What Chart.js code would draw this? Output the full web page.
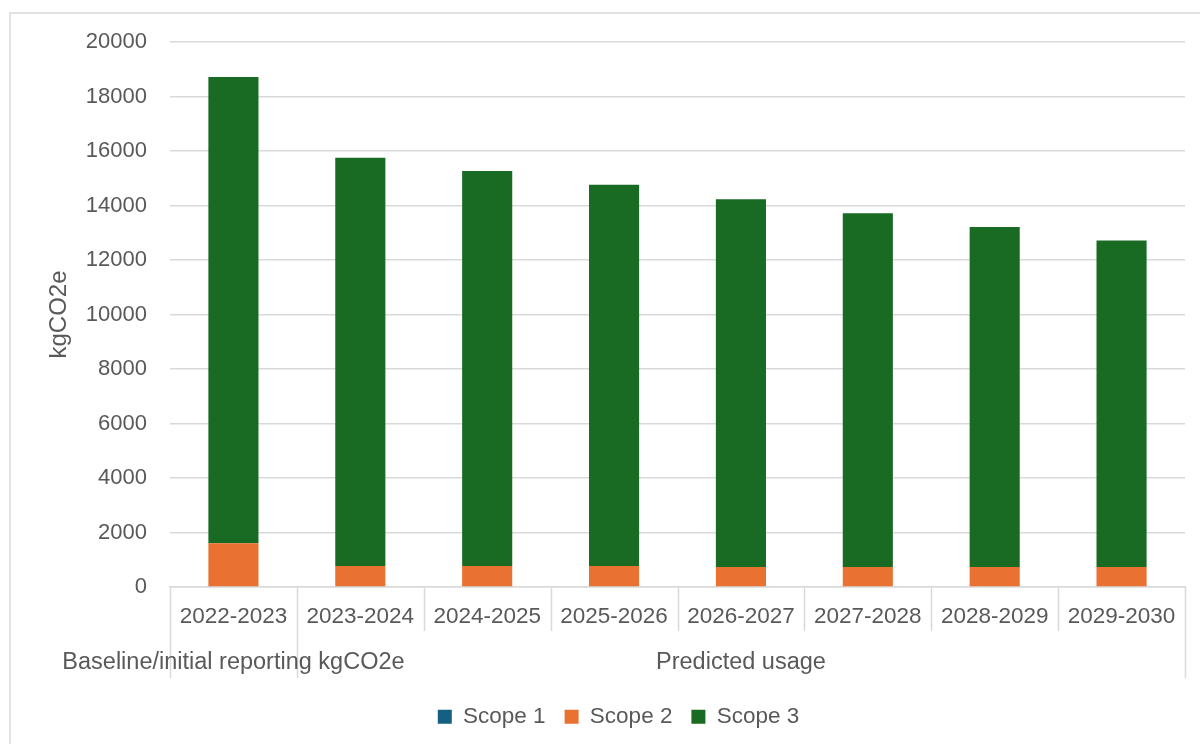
<!DOCTYPE html>
<html>
<head>
<meta charset="utf-8">
<script src="https://cdn.jsdelivr.net/npm/chart.js@4/dist/chart.umd.min.js"></script>
<style>
html,body{margin:0;padding:0;background:#fff;}
canvas{display:block;}
</style>
</head>
<body>
<canvas id="c" width="1200" height="744"></canvas>
<script>
const categories = ["2022-2023","2023-2024","2024-2025","2025-2026","2026-2027","2027-2028","2028-2029","2029-2030"];
const groups = [
  {label: "Baseline/initial reporting kgCO2e", from: 0, to: 0},
  {label: "Predicted usage", from: 1, to: 7}
];
const scope1 = [0, 0, 0, 0, 0, 0, 0, 0];
const scope2 = [1610, 770, 770, 770, 730, 730, 730, 730];
const scope3 = [17110, 14980, 14500, 13990, 13500, 12990, 12480, 11990];
const yTicks = [0, 2000, 4000, 6000, 8000, 10000, 12000, 14000, 16000, 18000, 20000];

const FONT = "'Liberation Sans', Arial, sans-serif";
const TXT = "#595959";
const GRID = "#d9d9d9";

const axisPlugin = {
  id: 'multiAxis',
  afterLayout(chart) {
    if (chart.legend) {
      chart.legend.left += 26; chart.legend.right += 26;
      chart.legend.top -= 6; chart.legend.bottom -= 6;
    }
  },
  beforeDraw(chart) {
    const ctx = chart.ctx;
    ctx.save();
    ctx.fillStyle = '#fff';
    ctx.fillRect(0, 0, chart.width, chart.height);
    ctx.strokeStyle = GRID;
    ctx.lineWidth = 1.5;
    ctx.strokeRect(10, 13, 1300, 900);
    ctx.restore();
  },
  afterDraw(chart) {
    const ctx = chart.ctx;
    const x = chart.scales.x;
    const area = chart.chartArea;
    const n = categories.length;
    const w = (area.right - area.left) / n;
    const base = area.bottom;
    ctx.save();
    ctx.strokeStyle = GRID;
    ctx.lineWidth = 1.5;
    const groupEdges = new Set();
    groups.forEach(g => { groupEdges.add(g.from); groupEdges.add(g.to + 1); });
    for (let i = 0; i <= n; i++) {
      const px = Math.round(area.left + i * w) + 0.5;
      const bottom = groupEdges.has(i) ? base + 91 : base + 44;
      ctx.beginPath();
      ctx.moveTo(px, base);
      ctx.lineTo(px, bottom);
      ctx.stroke();
    }
    ctx.fillStyle = TXT;
    ctx.font = "22.5px " + FONT;
    ctx.textAlign = 'center';
    ctx.textBaseline = 'middle';
    categories.forEach((c, i) => {
      ctx.fillText(c, x.getPixelForValue(i), base + 30);
    });
    ctx.font = "23.5px " + FONT;
    groups.forEach(g => {
      const l = area.left + g.from * w;
      const r = area.left + (g.to + 1) * w;
      ctx.fillText(g.label, (l + r) / 2, base + 76);
    });
    ctx.restore();
  }
};

new Chart(document.getElementById('c'), {
  type: 'bar',
  data: {
    labels: categories,
    datasets: [
      {label: 'Scope 1', data: scope1, backgroundColor: '#156082'},
      {label: 'Scope 2', data: scope2, backgroundColor: '#E97132'},
      {label: 'Scope 3', data: scope3, backgroundColor: '#196B24'}
    ]
  },
  options: {
    responsive: false,
    animation: false,
    devicePixelRatio: 1,
    layout: {padding: {left: 0, right: 15, top: 42, bottom: 0}},
    datasets: {bar: {barPercentage: 0.395, categoryPercentage: 1}},
    plugins: {
      legend: {
        position: 'bottom',
        labels: {
          boxWidth: 14, boxHeight: 14, padding: 19,
          color: TXT,
          font: {family: FONT, size: 22.5}
        }
      },
      tooltip: {enabled: false}
    },
    scales: {
      x: {
        stacked: true,
        ticks: {display: false},
        grid: {display: false},
        border: {display: true, color: GRID, width: 1.5},
        afterFit(scale) { scale.height = 105.5; }
      },
      y: {
        stacked: true,
        min: 0, max: 20000,
        afterBuildTicks(scale) { scale.ticks = yTicks.map(v => ({value: v})); },
        ticks: {
          color: TXT, padding: 23,
          font: {family: FONT, size: 22},
          callback: v => String(v)
        },
        grid: {color: GRID, lineWidth: 1.5, drawTicks: false},
        border: {display: false},
        title: {
          display: true, text: 'kgCO2e', color: TXT,
          font: {family: FONT, size: 24},
          padding: {top: 45, bottom: 0}
        },
        afterFit(scale) { scale.width = 170; }
      }
    }
  },
  plugins: [axisPlugin]
});
</script>
</body>
</html>
